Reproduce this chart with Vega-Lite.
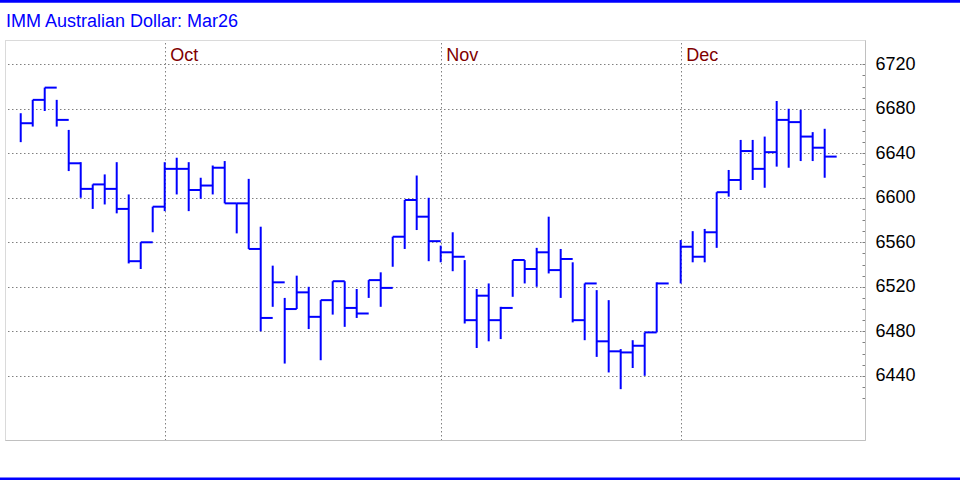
{
  "$schema": "https://vega.github.io/schema/vega-lite/v6.json",
  "width": 860,
  "height": 400,
  "autosize": {"type": "none"},
  "padding": {"left": 5, "top": 40, "right": 95, "bottom": 40},
  "background": "#ffffff",
  "title": {
    "text": "IMM Australian Dollar: Mar26",
    "anchor": "start",
    "frame": "group",
    "color": "#0000ff",
    "font": "Liberation Sans",
    "fontSize": 18,
    "fontWeight": "normal",
    "baseline": "alphabetic",
    "offset": -26,
    "dy": 19,
    "dx": 1
  },
  "config": {
    "view": {"stroke": "#b4b4b4", "strokeDash": [1, 1]}
  },
  "data": {
    "values": [
      {"i": 0, "h": 6676, "l": 6650, "c": 6667},
      {"i": 1, "h": 6688, "l": 6664, "c": 6688},
      {"i": 2, "h": 6699, "l": 6678, "c": 6699},
      {"i": 3, "h": 6688, "l": 6664, "c": 6670},
      {"i": 4, "h": 6661, "l": 6624, "c": 6631},
      {"i": 5, "h": 6632, "l": 6600, "c": 6608},
      {"i": 6, "h": 6612, "l": 6590, "c": 6612},
      {"i": 7, "h": 6621, "l": 6594, "c": 6608},
      {"i": 8, "h": 6632, "l": 6586, "c": 6590},
      {"i": 9, "h": 6603, "l": 6541, "c": 6543},
      {"i": 10, "h": 6560, "l": 6536, "c": 6560},
      {"i": 11, "h": 6592, "l": 6569, "c": 6592},
      {"i": 12, "h": 6632, "l": 6588, "c": 6626},
      {"i": 13, "h": 6636, "l": 6603, "c": 6626},
      {"i": 14, "h": 6632, "l": 6588, "c": 6607},
      {"i": 15, "h": 6618, "l": 6599, "c": 6611},
      {"i": 16, "h": 6629, "l": 6603, "c": 6627},
      {"i": 17, "h": 6633, "l": 6595, "c": 6595},
      {"i": 18, "h": 6595, "l": 6568, "c": 6595},
      {"i": 19, "h": 6617, "l": 6554, "c": 6554},
      {"i": 20, "h": 6574, "l": 6480, "c": 6492},
      {"i": 21, "h": 6539, "l": 6502, "c": 6524},
      {"i": 22, "h": 6510, "l": 6451, "c": 6500},
      {"i": 23, "h": 6530, "l": 6500, "c": 6515},
      {"i": 24, "h": 6520, "l": 6482, "c": 6493},
      {"i": 25, "h": 6508, "l": 6454, "c": 6508},
      {"i": 26, "h": 6525, "l": 6495, "c": 6525},
      {"i": 27, "h": 6525, "l": 6484, "c": 6501},
      {"i": 28, "h": 6518, "l": 6492, "c": 6496},
      {"i": 29, "h": 6526, "l": 6510, "c": 6526},
      {"i": 30, "h": 6533, "l": 6502, "c": 6519},
      {"i": 31, "h": 6565, "l": 6538, "c": 6565},
      {"i": 32, "h": 6598, "l": 6554, "c": 6598},
      {"i": 33, "h": 6620, "l": 6571, "c": 6583},
      {"i": 34, "h": 6600, "l": 6543, "c": 6561},
      {"i": 35, "h": 6557, "l": 6542, "c": 6551},
      {"i": 36, "h": 6569, "l": 6534, "c": 6547},
      {"i": 37, "h": 6544, "l": 6487, "c": 6490},
      {"i": 38, "h": 6518, "l": 6465, "c": 6512},
      {"i": 39, "h": 6523, "l": 6471, "c": 6490},
      {"i": 40, "h": 6502, "l": 6473, "c": 6501},
      {"i": 41, "h": 6544, "l": 6511, "c": 6544},
      {"i": 42, "h": 6544, "l": 6523, "c": 6536},
      {"i": 43, "h": 6555, "l": 6520, "c": 6551},
      {"i": 44, "h": 6583, "l": 6532, "c": 6535},
      {"i": 45, "h": 6554, "l": 6510, "c": 6545},
      {"i": 46, "h": 6542, "l": 6488, "c": 6490},
      {"i": 47, "h": 6523, "l": 6472, "c": 6523},
      {"i": 48, "h": 6517, "l": 6457, "c": 6471},
      {"i": 49, "h": 6508, "l": 6443, "c": 6462},
      {"i": 50, "h": 6464, "l": 6428, "c": 6461},
      {"i": 51, "h": 6472, "l": 6447, "c": 6467},
      {"i": 52, "h": 6479, "l": 6440, "c": 6479},
      {"i": 53, "h": 6524, "l": 6479, "c": 6523},
      {"i": 55, "h": 6562, "l": 6523, "c": 6556},
      {"i": 56, "h": 6570, "l": 6542, "c": 6547},
      {"i": 57, "h": 6572, "l": 6542, "c": 6569},
      {"i": 58, "h": 6605, "l": 6555, "c": 6605},
      {"i": 59, "h": 6625, "l": 6601, "c": 6616},
      {"i": 60, "h": 6652, "l": 6607, "c": 6642},
      {"i": 61, "h": 6652, "l": 6616, "c": 6626},
      {"i": 62, "h": 6655, "l": 6609, "c": 6641},
      {"i": 63, "h": 6687, "l": 6628, "c": 6670},
      {"i": 64, "h": 6680, "l": 6627, "c": 6668},
      {"i": 65, "h": 6679, "l": 6633, "c": 6655},
      {"i": 66, "h": 6659, "l": 6633, "c": 6645},
      {"i": 67, "h": 6662, "l": 6618, "c": 6637}
    ]
  },
  "resolve": {"axis": {"x": "independent"}},
  "layer": [
    {
      "mark": {"type": "rule", "color": "#0000ff", "strokeWidth": 2},
      "encoding": {
        "x": {
          "field": "i",
          "type": "quantitative",
          "scale": {"domain": [-1.31, 70.36], "nice": false, "zero": false},
          "axis": {
            "orient": "top",
            "values": [12, 35, 55],
            "labelExpr": "datum.value === 12 ? 'Oct' : datum.value === 35 ? 'Nov' : 'Dec'",
            "grid": true,
            "gridColor": "#808080",
            "gridDash": [1.5, 2.5],
            "gridWidth": 1,
            "domain": false,
            "ticks": false,
            "tickSize": 0,
            "labelPadding": -20,
            "labelAlign": "left",
            "labelBaseline": "alphabetic",
            "labelOffset": 5,
            "labelColor": "#800000",
            "labelFont": "Liberation Sans",
            "labelFontSize": 18,
            "labelFlush": false,
            "labelOverlap": false,
            "title": null
          }
        },
        "y": {
          "field": "l",
          "type": "quantitative",
          "scale": {"domain": [6382.3, 6741.8], "nice": false, "zero": false},
          "axis": {
            "orient": "right",
            "values": [6420, 6430, 6440, 6450, 6460, 6470, 6480, 6490, 6500, 6510, 6520, 6530, 6540, 6550, 6560, 6570, 6580, 6590, 6600, 6610, 6620, 6630, 6640, 6650, 6660, 6670, 6680, 6690, 6700, 6710, 6720],
            "tickCount": 100,
            "format": "d",
            "labelExpr": "datum.value % 40 === 0 ? datum.label : ''",
            "grid": true,
            "gridColor": "#808080",
            "gridDash": [1.5, 2.5],
            "gridOpacity": {"condition": {"test": "datum.value % 40 === 0", "value": 1}, "value": 0},
            "tickSize": -3,
            "tickColor": "#808080",
            "domain": true,
            "domainColor": "#c0c0c0",
            "labelPadding": 13,
            "labelAlign": "left",
            "labelBaseline": "middle",
            "labelFont": "Liberation Sans",
            "labelFontSize": 18,
            "labelColor": "#000000",
            "labelOverlap": false,
            "labelFlush": false,
            "labelBound": false,
            "title": null
          }
        },
        "y2": {"field": "h"}
      }
    },
    {
      "mark": {"type": "tick", "orient": "horizontal", "color": "#0000ff", "size": 12, "thickness": 2, "xOffset": 6, "opacity": 1},
      "encoding": {
        "x": {
          "field": "i",
          "type": "quantitative",
          "scale": {"domain": [-1.31, 70.36], "nice": false, "zero": false},
          "axis": {
            "orient": "bottom",
            "domain": true,
            "domainColor": "#c0c0c0",
            "labels": false,
            "ticks": false,
            "grid": false,
            "title": null
          }
        },
        "y": {
          "field": "c",
          "type": "quantitative",
          "scale": {"domain": [6382.3, 6741.8], "nice": false, "zero": false}
        }
      }
    },
    {
      "data": {"values": [{}]},
      "mark": {"type": "rule", "color": "#0000ff", "strokeWidth": 3},
      "encoding": {
        "x": {"datum": -1.73, "type": "quantitative", "axis": null},
        "x2": {"datum": 78.3},
        "y": {"datum": 6776.6, "type": "quantitative"}
      }
    },
    {
      "data": {"values": [{}]},
      "mark": {"type": "rule", "color": "#0000ff", "strokeWidth": 3},
      "encoding": {
        "x": {"datum": -1.73, "type": "quantitative", "axis": null},
        "x2": {"datum": 78.3},
        "y": {"datum": 6347.25, "type": "quantitative"}
      }
    }
  ]
}
